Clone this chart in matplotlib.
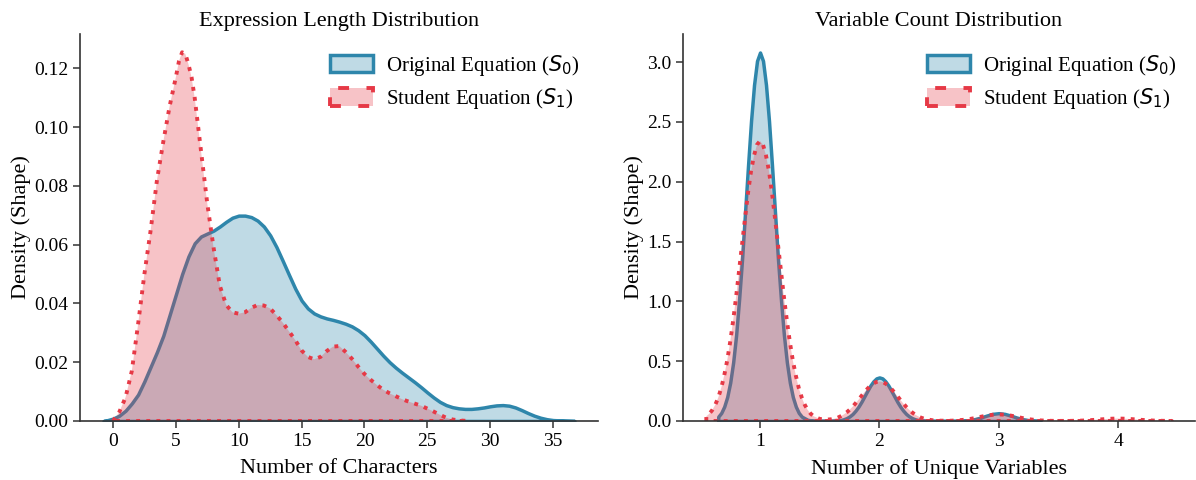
import numpy as np
import matplotlib
matplotlib.use("Agg")
import matplotlib.pyplot as plt

plt.rcParams['font.family'] = ['Liberation Serif', 'DejaVu Serif']
plt.rcParams['mathtext.fontset'] = 'dejavusans'

# ---- Left panel: Expression length (density curves) ----
len_x_s0 = [-0.75, -0.5, 0, 0.5, 1, 1.5, 2, 2.5, 3, 3.5, 4, 4.5, 5, 5.5, 6, 6.5, 7, 7.5,
            8, 8.5, 9, 9.5, 10, 10.5, 11, 11.5, 12, 12.5, 13, 13.5, 14, 14.5, 15, 15.5,
            16, 16.5, 17, 17.5, 18, 18.5, 19, 19.5, 20, 20.5, 21, 21.5, 22, 22.5, 23,
            23.5, 24, 24.5, 25, 25.5, 26, 26.5, 27, 27.5, 28, 28.5, 29, 29.5, 30, 30.5,
            31, 31.5, 32, 32.5, 33, 33.5, 34, 34.5, 35, 35.5, 36, 36.7]
len_y_s0 = [0.0, 0.0002, 0.0008, 0.0018, 0.0035, 0.006, 0.009, 0.0135, 0.0185, 0.0235,
            0.029, 0.036, 0.043, 0.050, 0.0560, 0.0605, 0.0628, 0.0638, 0.0648, 0.0662,
            0.0678, 0.0692, 0.0699, 0.0699, 0.0694, 0.0682, 0.0662, 0.0632, 0.0592,
            0.0545, 0.0497, 0.0450, 0.0410, 0.0383, 0.0366, 0.0356, 0.0349, 0.0344,
            0.0338, 0.0331, 0.0322, 0.0309, 0.0292, 0.0270, 0.0246, 0.0222, 0.0200,
            0.0181, 0.0164, 0.0148, 0.0132, 0.0115, 0.0097, 0.0080, 0.0065, 0.0054,
            0.0047, 0.0043, 0.0041, 0.0041, 0.0043, 0.0046, 0.0050, 0.0053, 0.0054,
            0.0052, 0.0046, 0.0037, 0.0027, 0.0018, 0.0011, 0.0006, 0.0003, 0.0002,
            0.0001, 0.0]

len_x_s1 = [0.0, 0.5, 1.0, 1.5, 2.0, 2.5, 3.0, 3.5, 4.0, 4.5, 5.0, 5.25, 5.5, 5.75, 6.0,
            6.25, 6.5, 7.0, 7.5, 8.0, 8.5, 9.0, 9.5, 10.0, 10.5, 11.0, 11.5, 12.0, 12.5,
            13.0, 13.5, 14.0, 14.5, 15.0, 15.5, 16.0, 16.5, 17.0, 17.5, 18.0, 18.5, 19.0,
            19.5, 20.0, 20.5, 21.0, 21.5, 22.0, 22.5, 23.0, 23.5, 24.0, 24.5, 25.0, 25.5,
            26.0, 26.5, 27.0, 27.5, 28.2]
len_y_s1 = [0.0, 0.003, 0.008, 0.017, 0.033, 0.050, 0.065, 0.082, 0.095, 0.107, 0.117,
            0.1225, 0.1255, 0.125, 0.1215, 0.117, 0.110, 0.092, 0.074, 0.059, 0.046,
            0.0395, 0.037, 0.0365, 0.037, 0.0385, 0.0395, 0.0393, 0.0383, 0.036, 0.0335,
            0.0305, 0.0275, 0.024, 0.0218, 0.021, 0.0218, 0.0238, 0.0253, 0.0255, 0.0235,
            0.0212, 0.0185, 0.016, 0.014, 0.0122, 0.0106, 0.0094, 0.0084, 0.0074, 0.0066,
            0.0059, 0.0052, 0.0042, 0.0032, 0.0021, 0.0011, 0.0005, 0.0002, 0.0]

# ---- Right panel: Unique variable count ----
var_x_s0 = [0.65, 0.675, 0.70, 0.725, 0.75, 0.775, 0.80, 0.825, 0.85, 0.875, 0.90, 0.925,
            0.95, 0.975, 1.00, 1.025, 1.05, 1.075, 1.10, 1.125, 1.15, 1.175, 1.20, 1.225,
            1.25, 1.275, 1.30, 1.325, 1.35, 1.40, 1.45, 1.50, 1.55, 1.60, 1.65, 1.675,
            1.70, 1.725, 1.75, 1.775, 1.80, 1.825, 1.85, 1.875, 1.90, 1.925, 1.95, 1.975,
            2.00, 2.025, 2.05, 2.075, 2.10, 2.125, 2.15, 2.175, 2.20, 2.225, 2.25, 2.275,
            2.30, 2.325, 2.35, 2.40, 2.50, 2.60, 2.65, 2.70, 2.75, 2.80, 2.85, 2.90,
            2.95, 3.00, 3.05, 3.10, 3.15, 3.20, 3.25, 3.30, 3.35]
var_y_s0 = [0.036, 0.067, 0.12, 0.20, 0.32, 0.49, 0.72, 1.02, 1.36, 1.75, 2.14, 2.51,
            2.81, 3.01, 3.08, 3.01, 2.81, 2.51, 2.14, 1.75, 1.36, 1.02, 0.72, 0.49,
            0.32, 0.20, 0.12, 0.067, 0.036, 0.009, 0.002, 0.001, 0.001, 0.001, 0.004,
            0.0079, 0.014, 0.0235, 0.038, 0.058, 0.086, 0.120, 0.161, 0.207, 0.253,
            0.297, 0.332, 0.356, 0.364, 0.356, 0.332, 0.297, 0.253, 0.207, 0.161, 0.120,
            0.086, 0.058, 0.038, 0.0235, 0.014, 0.0079, 0.004, 0.001, 0.0, 0.0002,
            0.0008, 0.0025, 0.0068, 0.0153, 0.0288, 0.0452, 0.0593, 0.065, 0.0593,
            0.0452, 0.0288, 0.0153, 0.0068, 0.0025, 0.0008]

var_x_s1 = [0.55, 0.575, 0.60, 0.625, 0.65, 0.675, 0.70, 0.725, 0.75, 0.775, 0.80, 0.825,
            0.85, 0.875, 0.90, 0.925, 0.95, 0.975, 1.00, 1.025, 1.05, 1.075, 1.10, 1.125,
            1.15, 1.175, 1.20, 1.225, 1.25, 1.275, 1.30, 1.325, 1.35, 1.375, 1.40, 1.425,
            1.45, 1.50, 1.55, 1.60, 1.625, 1.65, 1.675, 1.70, 1.725, 1.75, 1.775, 1.80,
            1.825, 1.85, 1.875, 1.90, 1.925, 1.95, 1.975, 2.00, 2.025, 2.05, 2.075, 2.10,
            2.125, 2.15, 2.175, 2.20, 2.225, 2.25, 2.275, 2.30, 2.325, 2.35, 2.375, 2.40,
            2.45, 2.50, 2.55, 2.60, 2.65, 2.70, 2.75, 2.80, 2.85, 2.90, 2.95, 3.00, 3.05,
            3.10, 3.15, 3.20, 3.25, 3.30, 3.35, 3.40, 3.45, 3.50, 3.55, 3.60, 3.65, 3.70,
            3.75, 3.80, 3.85, 3.90, 3.95, 4.00, 4.05, 4.10, 4.15, 4.20, 4.25, 4.30, 4.35,
            4.40, 4.45]
var_y_s1 = [0.039, 0.06, 0.091, 0.135, 0.195, 0.275, 0.38, 0.505, 0.66, 0.84, 1.04, 1.26,
            1.48, 1.70, 1.91, 2.09, 2.22, 2.31, 2.34, 2.31, 2.22, 2.09, 1.91, 1.70,
            1.48, 1.26, 1.04, 0.84, 0.66, 0.505, 0.38, 0.275, 0.195, 0.135, 0.091, 0.06,
            0.039, 0.017, 0.0104, 0.0145, 0.019, 0.027, 0.039, 0.053, 0.071, 0.093, 0.118,
            0.147, 0.177, 0.209, 0.240, 0.269, 0.294, 0.314, 0.326, 0.33, 0.326, 0.314,
            0.294, 0.269, 0.240, 0.209, 0.177, 0.147, 0.118, 0.093, 0.071, 0.053, 0.039,
            0.027, 0.019, 0.013, 0.005, 0.0025, 0.002, 0.0021, 0.0046, 0.009, 0.015,
            0.024, 0.035, 0.045, 0.052, 0.055, 0.052, 0.045, 0.035, 0.024, 0.015, 0.009,
            0.0046, 0.0021, 0.001, 0.0005, 0.0006, 0.0008, 0.0017, 0.0032, 0.0056, 0.0089,
            0.0127, 0.0163, 0.019, 0.02, 0.019, 0.0163, 0.0127, 0.0089, 0.0056, 0.0032,
            0.0017, 0.0008, 0.0004]

BLUE = '#2E86AB'
RED = '#E63946'
labels = [r'Original Equation ($S_0$)', r'Student Equation ($S_1$)']

fig = plt.figure(figsize=(11.96, 4.8), dpi=100)
ax1 = fig.add_axes([0.0669, 0.123, 0.4331, 0.806])
ax2 = fig.add_axes([0.5711, 0.123, 0.4281, 0.806])

def draw(ax, xs0, ys0, xs1, ys1):
    ax.fill_between(xs0, ys0, 0, facecolor=matplotlib.colors.to_rgba(BLUE, 0.3),
                    edgecolor=BLUE, linewidth=2.5, linestyle='-', label=labels[0])
    ax.fill_between(xs1, ys1, 0, facecolor=matplotlib.colors.to_rgba(RED, 0.3),
                    edgecolor=RED, linewidth=2.8, linestyle=(0, (1, 1.6)), label=labels[1])
    ax.spines['top'].set_visible(False)
    ax.spines['right'].set_visible(False)
    for s in ('left', 'bottom'):
        ax.spines[s].set_color('#333333')
        ax.spines[s].set_linewidth(1.2)
    ax.tick_params(axis='both', labelsize=14, length=5, width=1.1, color='#333333')
    ax.set_ylabel('Density (Shape)', fontsize=16, labelpad=2)
    ax.legend(loc='upper right', frameon=False, fontsize=15, handlelength=2.1,
              handleheight=0.9, handletextpad=0.6, borderaxespad=0.5, labelspacing=0.4)

draw(ax1, len_x_s0, len_y_s0, len_x_s1, len_y_s1)
ax1.set_xlim(-2.62, 38.57)
ax1.set_ylim(0, 0.1317)
ax1.set_xticks([0, 5, 10, 15, 20, 25, 30, 35])
ax1.set_yticks([0.0, 0.02, 0.04, 0.06, 0.08, 0.10, 0.12])
ax1.yaxis.set_major_formatter(matplotlib.ticker.FormatStrFormatter('%.2f'))
ax1.set_xlabel('Number of Characters', fontsize=16, labelpad=7)
ax1.set_title('Expression Length Distribution', fontsize=16)

draw(ax2, var_x_s0, var_y_s0, var_x_s1, var_y_s1)
ax2.set_xlim(0.355, 4.645)
ax2.set_ylim(0, 3.234)
ax2.set_xticks([1, 2, 3, 4])
ax2.set_yticks([0.0, 0.5, 1.0, 1.5, 2.0, 2.5, 3.0])
ax2.yaxis.set_major_formatter(matplotlib.ticker.FormatStrFormatter('%.1f'))
ax2.set_xlabel('Number of Unique Variables', fontsize=16, labelpad=7)
ax2.set_title('Variable Count Distribution', fontsize=16)

fig.savefig('out.png', dpi=100)
